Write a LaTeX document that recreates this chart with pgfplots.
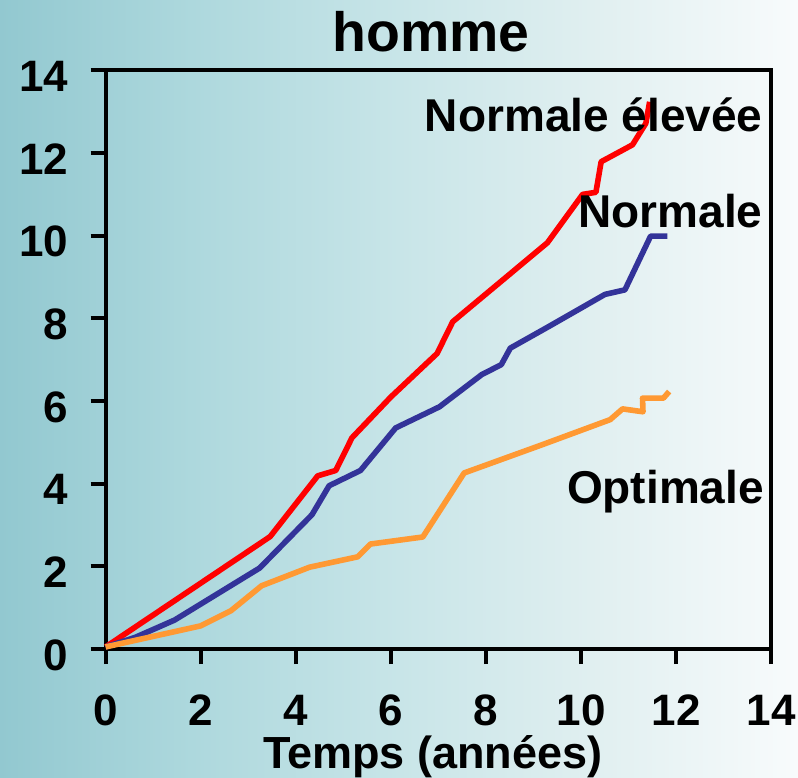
\documentclass[border=0pt]{standalone}
\usepackage{pgfplots}
\pgfplotsset{compat=1.18}
\usepackage{fontspec}
\setmainfont{Liberation Sans}
\definecolor{redl}{HTML}{FF0000}
\definecolor{bluel}{HTML}{333399}
\definecolor{orangel}{HTML}{FF9933}
\definecolor{bgA}{HTML}{92C8D0}
\definecolor{bgB}{HTML}{ADD8DD}
\definecolor{bgC}{HTML}{C8E5E8}
\definecolor{bgD}{HTML}{E0EFF0}
\definecolor{bgE}{HTML}{F8FBFC}
\pgfdeclarehorizontalshading{bgshade}{100bp}{color(0bp)=(bgA); color(25bp)=(bgA); color(37bp)=(bgB); color(50bp)=(bgC); color(62bp)=(bgD); color(75bp)=(bgE); color(100bp)=(bgE)}
\begin{document}
\begin{tikzpicture}
\useasboundingbox (-52.8pt,-64pt) rectangle (346.2pt,324.5pt);
\shade[shading=bgshade] (-52.8pt,-64pt) rectangle (346.2pt,324.5pt);
\begin{axis}[
  at={(0,0)}, anchor=south west,
  scale only axis, width=332.9pt, height=289.3pt,
  xmin=0, xmax=14, ymin=0, ymax=14,
  xtick={0,2,...,14}, ytick={0,2,...,14},
  xtick pos=bottom, ytick pos=left,
  tick align=outside, major tick length=7.5pt,
  every tick/.style={black, line width=2pt},
  axis line style={black, line width=2pt},
  /pgf/number format/assume math mode=true,
  tick label style={font=\fontsize{22}{22}\selectfont\bfseries, inner sep=0pt},
  xticklabel style={anchor=base, yshift=-30.5pt},
  yticklabel style={anchor=base east, xshift=-11pt, yshift=-10.5pt},
  clip=false,
]
\addplot[redl, line width=2.8pt, line join=round] coordinates {
(0,0.05) (3.46,2.72) (4.46,4.19) (4.84,4.32) (5.18,5.11) (6.0,6.10) (6.97,7.15) (7.30,7.92) (9.29,9.83) (10.03,11.0) (10.31,11.05) (10.42,11.79) (11.08,12.2) (11.36,12.72) (11.44,13.24)
};
\addplot[bluel, line width=2.8pt, line join=round] coordinates {
(0,0.05) (0.62,0.28) (1.45,0.70) (3.24,1.96) (4.34,3.25) (4.70,3.95) (5.36,4.32) (6.10,5.35) (7.02,5.86) (7.91,6.64) (8.32,6.88) (8.51,7.28) (9.33,7.81) (10.50,8.58) (10.92,8.69) (11.46,9.99) (11.81,9.99)
};
\addplot[orangel, line width=2.8pt, line join=round] coordinates {
(0,0.05) (2.0,0.56) (2.64,0.93) (3.28,1.53) (4.29,1.98) (5.30,2.23) (5.57,2.54) (6.67,2.71) (7.54,4.26) (9.15,4.93) (10.61,5.55) (10.87,5.81) (11.30,5.74) (11.29,6.07) (11.73,6.07) (11.85,6.23)
};
\node[anchor=base east, inner sep=0pt, font=\fontsize{23}{23}\selectfont\bfseries] at (axis cs:13.82,12.52) {Normale élevée};
\node[anchor=base east, inner sep=0pt, font=\fontsize{23}{23}\selectfont\bfseries] at (axis cs:13.82,10.19) {Normale};
\node[anchor=base east, inner sep=0pt, font=\fontsize{23}{23}\selectfont\bfseries] at (axis cs:13.85,3.53) {Optimale};
\node[anchor=base, inner sep=0pt, yshift=9.2pt, font=\fontsize{27.7}{27.7}\selectfont\bfseries] at (axis cs:6.84,14) {homme};
\node[anchor=base, inner sep=0pt, yshift=-59.5pt, font=\fontsize{22.5}{22.5}\selectfont\bfseries] at (axis cs:6.88,0) {Temps (années)};
\end{axis}
\end{tikzpicture}
\end{document}
